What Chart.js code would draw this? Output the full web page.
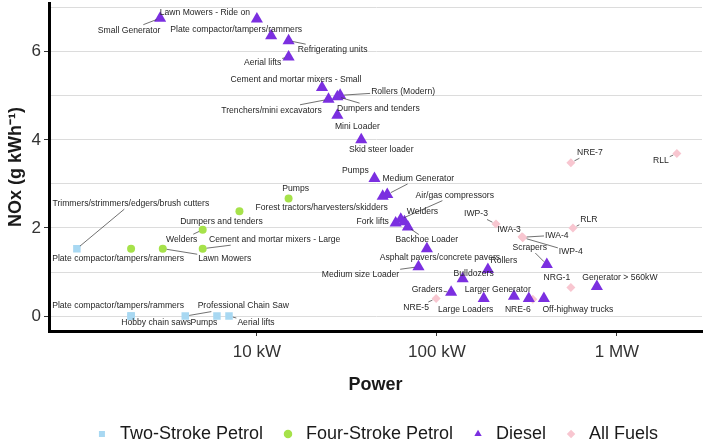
<!DOCTYPE html>
<html>
<head>
<meta charset="utf-8">
<script src="https://cdn.jsdelivr.net/npm/chart.js@4.4.1/dist/chart.umd.min.js"></script>
<style>
  html, body { margin: 0; padding: 0; overflow: hidden; background: #fff; }
  #emissoes { display: block; margin-top: -10px; }
</style>
</head>
<body>
<canvas id="emissoes" width="709" height="463"></canvas>
<script>
// eixos
var powerTicks = [10, 100, 1000];
var powerTickLabels = ['10 kW', '100 kW', '1 MW'];
var noxTicks = [0, 1, 2, 3, 4, 5, 6, 7];

// Two-Stroke Petrol
var twoStrokeNames = ['Trimmers/strimmers/edgers/brush cutters', 'Plate compactor/tampers/rammers', 'Hobby chain saws',
    'Professional Chain Saw', 'Pumps', 'Aerial lifts'];
var twoStrokePower = [1.0, 2.0, 2.0, 4.0, 6.0, 7.0];
var twoStrokeNOx = [1.53, 0, 0, 0, 0, 0];

// Four-Stroke Petrol
var fourStrokeNames = ['Plate compactor/tampers/rammers', 'Lawn Mowers', 'Welders', 'Cement and mortar mixers - Large',
    'Dumpers and tenders', 'Pumps'];
var fourStrokePower = [2.0, 3.0, 5.0, 5.0, 8.0, 15];
var fourStrokeNOx = [1.53, 1.53, 1.96, 1.53, 2.38, 2.67];

// Diesel
var dieselNames = ['Small Generator', 'Lawn Mowers - Ride on', 'Plate compactor/tampers/rammers', 'Refrigerating units',
    'Aerial lifts', 'Cement and mortar mixers - Small', 'Trenchers/mini excavators', 'Rollers (Modern)',
    'Dumpers and tenders', 'Mini Loader', 'Skid steer loader', 'Pumps', 'Medium Generator',
    'Forest tractors/harvesters/skidders', 'Air/gas compressors', 'Welders', 'Fork lifts', 'Backhoe Loader',
    'Asphalt pavers/concrete pavers', 'Medium size Loader', 'Bulldozers', 'Rollers', 'Graders', 'Large Loaders',
    '', 'Larger Generator', 'Off-highway trucks', 'Scrapers', 'Generator > 560kW'];
var dieselPower = [2.9, 10, 12, 15, 15, 23, 25, 29, 28, 28, 38, 45, 53, 50, 63, 66, 59, 69, 88, 79, 139, 192, 120, 182,
    268, 324, 393, 408, 774];
var dieselNOx = [6.76, 6.74, 6.36, 6.25, 5.88, 5.19, 4.92, 5.01, 4.98, 4.56, 4.0, 3.12, 2.76, 2.72, 2.20, 2.14, 2.11,
    2.02, 1.53, 1.12, 0.85, 1.06, 0.54, 0.40, 0.45, 0.40, 0.40, 1.17, 0.67];

// All Fuels
var allFuelsNames = ['NRE-7', 'RLL', 'IWP-3', 'RLR', 'IWA-3', 'IWA-4', 'IWP-4', 'NRG-1', 'NRE-6', 'NRE-5'];
var allFuelsPower = [555, 2154, 213, 570, 297, 300, 300, 555, 341, 99];
var allFuelsNOx = [3.48, 3.69, 2.09, 2.0, 1.80, 1.79, 1.78, 0.65, 0.38, 0.40];

// onde cada rótulo fica em relação ao ponto (px)
var twoStrokeLabelAt = [[54, -45], [-13, -10], [25, 7], [58, -10], [-13, 7], [27, 7]];
var fourStrokeLabelAt = [[-13, 10], [62, 10], [-21, 10], [72, -9], [-18, 10], [7, -10]];
var dieselLabelAt = [[-31, 12], [-52, -6], [-35, -6], [44, 9], [-26, 6], [-26, -8], [-57, 11], [63, -4], [41, 12],
    [20, 11], [20, 10], [-19, -8], [31, -16], [-61, 11], [54, -24], [18, -10], [-23, -1], [19, 13], [13, 9],
    [-58, 8], [11, -5], [16, -9], [-24, -3], [-18, 11], [0, 0], [-31, -9], [34, 11], [-17, -17], [23, -9]];
var allFuelsLabelAt = [[19, -10], [-16, 7], [-20, -10], [16, -8], [-13, -7], [34, -2], [48, 14], [-14, -10],
    [-15, 10], [-20, 9]];

function pontos(power, nox) {
    return power.map(function (p, i) { return { x: p, y: nox[i] }; });
}

// Desenha os rótulos de cada ponto; só liga o rótulo ao ponto quando ele está afastado
var rotulosPlugin = {
    id: 'rotulos',
    afterDatasetsDraw: function (chart) {
        var ctx = chart.ctx;
        ctx.save();
        ctx.font = '8.6px "Liberation Sans", Arial, sans-serif';
        ctx.textAlign = 'center';
        ctx.textBaseline = 'middle';
        chart.data.datasets.forEach(function (ds, i) {
            var meta = chart.getDatasetMeta(i);
            meta.data.forEach(function (pt, j) {
                var txt = ds.names[j];
                if (!txt) return;
                var off = ds.labelAt[j];
                var cx = pt.x + off[0], cy = pt.y + off[1];
                var hw = ctx.measureText(txt).width / 2 + 1, hh = 5.5;
                // distância até o ponto mais próximo da caixa do rótulo
                var qx = Math.max(cx - hw, Math.min(pt.x, cx + hw));
                var qy = Math.max(cy - hh, Math.min(pt.y, cy + hh));
                var near = Math.sqrt((qx - pt.x) * (qx - pt.x) + (qy - pt.y) * (qy - pt.y));
                var vx = cx - pt.x, vy = cy - pt.y;
                var len = Math.sqrt(vx * vx + vy * vy);
                var s = Math.min(vx ? hw / Math.abs(vx) : 99, vy ? hh / Math.abs(vy) : 99);
                if (near > 6 && s < 1) {
                    ctx.beginPath();
                    ctx.moveTo(pt.x + vx / len * 4, pt.y + vy / len * 4);
                    ctx.lineTo(cx - s * vx, cy - s * vy);
                    ctx.strokeStyle = '#333';
                    ctx.lineWidth = 0.7;
                    ctx.stroke();
                }
                ctx.fillStyle = '#262626';
                ctx.fillText(txt, cx, cy);
            });
        });
        ctx.restore();
    }
};

var emissoes = new Chart(document.getElementById('emissoes').getContext('2d'), {
    type: 'scatter',
    data: {
        datasets: [{
            label: 'Two-Stroke Petrol',
            data: pontos(twoStrokePower, twoStrokeNOx),
            names: twoStrokeNames,
            labelAt: twoStrokeLabelAt,
            pointStyle: 'rect',
            pointRadius: 5.3,
            backgroundColor: '#a8d8f2',
            borderWidth: 0
        }, {
            label: 'Four-Stroke Petrol',
            data: pontos(fourStrokePower, fourStrokeNOx),
            names: fourStrokeNames,
            labelAt: fourStrokeLabelAt,
            pointStyle: 'circle',
            pointRadius: 4,
            backgroundColor: '#a6e24a',
            borderWidth: 0
        }, {
            label: 'Diesel',
            data: pontos(dieselPower, dieselNOx),
            names: dieselNames,
            labelAt: dieselLabelAt,
            pointStyle: 'triangle',
            pointRadius: 7,
            backgroundColor: '#7b2fe0',
            borderWidth: 0
        }, {
            label: 'All Fuels',
            data: pontos(allFuelsPower, allFuelsNOx),
            names: allFuelsNames,
            labelAt: allFuelsLabelAt,
            pointStyle: 'rectRot',
            pointRadius: 4.5,
            backgroundColor: '#f8c6d0',
            borderWidth: 0
        }]
    },
    options: {
        responsive: false,
        animation: false,
        layout: { padding: { left: 0, right: 2, top: 0, bottom: 0 } },
        plugins: {
            tooltip: { enabled: false },
            legend: {
                position: 'bottom',
                fullSize: false,
                labels: {
                    usePointStyle: true,
                    boxHeight: 6,
                    boxWidth: 18,
                    padding: 16,
                    color: '#1a1a1a',
                    font: { size: 18, family: '"Liberation Sans", Arial, sans-serif' }
                }
            }
        },
        scales: {
            x: {
                type: 'logarithmic',
                min: 0.70,
                max: 2970,
                afterBuildTicks: function (scale) {
                    scale.ticks = powerTicks.map(function (v) { return { value: v }; });
                },
                afterFit: function (scale) { scale.height = 78; },
                ticks: {
                    padding: 6,
                    color: '#333',
                    font: { size: 17, family: '"Liberation Sans", Arial, sans-serif' },
                    callback: function (value) {
                        var i = powerTicks.indexOf(value);
                        return i >= 0 ? powerTickLabels[i] : '';
                    }
                },
                grid: { drawOnChartArea: false, tickLength: 5, tickColor: '#333', lineWidth: 1 },
                border: { color: '#000', width: 3 },
                title: {
                    display: true,
                    text: 'Power',
                    color: '#1a1a1a',
                    font: { size: 18, weight: 'bold', family: '"Liberation Sans", Arial, sans-serif' },
                    padding: { top: 0, bottom: 13 }
                }
            },
            y: {
                min: -0.338,
                max: 7.1,
                afterBuildTicks: function (scale) {
                    scale.ticks = noxTicks.map(function (v) { return { value: v }; });
                },
                afterFit: function (scale) { scale.width = 49; },
                ticks: {
                    padding: 3,
                    color: '#333',
                    font: { size: 17, family: '"Liberation Sans", Arial, sans-serif' },
                    callback: function (value) { return value % 2 === 0 ? String(value) : ''; }
                },
                grid: {
                    color: '#dcdcdc',
                    lineWidth: 1,
                    tickLength: 5,
                    tickColor: function (c) { return c.tick && c.tick.value % 2 === 0 ? '#333' : 'rgba(0,0,0,0)'; }
                },
                border: { color: '#000', width: 3 },
                title: {
                    display: true,
                    text: 'NOx (g kWh⁻¹)',
                    color: '#1a1a1a',
                    font: { size: 18, weight: 'bold', family: '"Liberation Sans", Arial, sans-serif' },
                    padding: { top: 5, bottom: 0 }
                }
            }
        }
    },
    plugins: [rotulosPlugin]
});
</script>
</body>
</html>
